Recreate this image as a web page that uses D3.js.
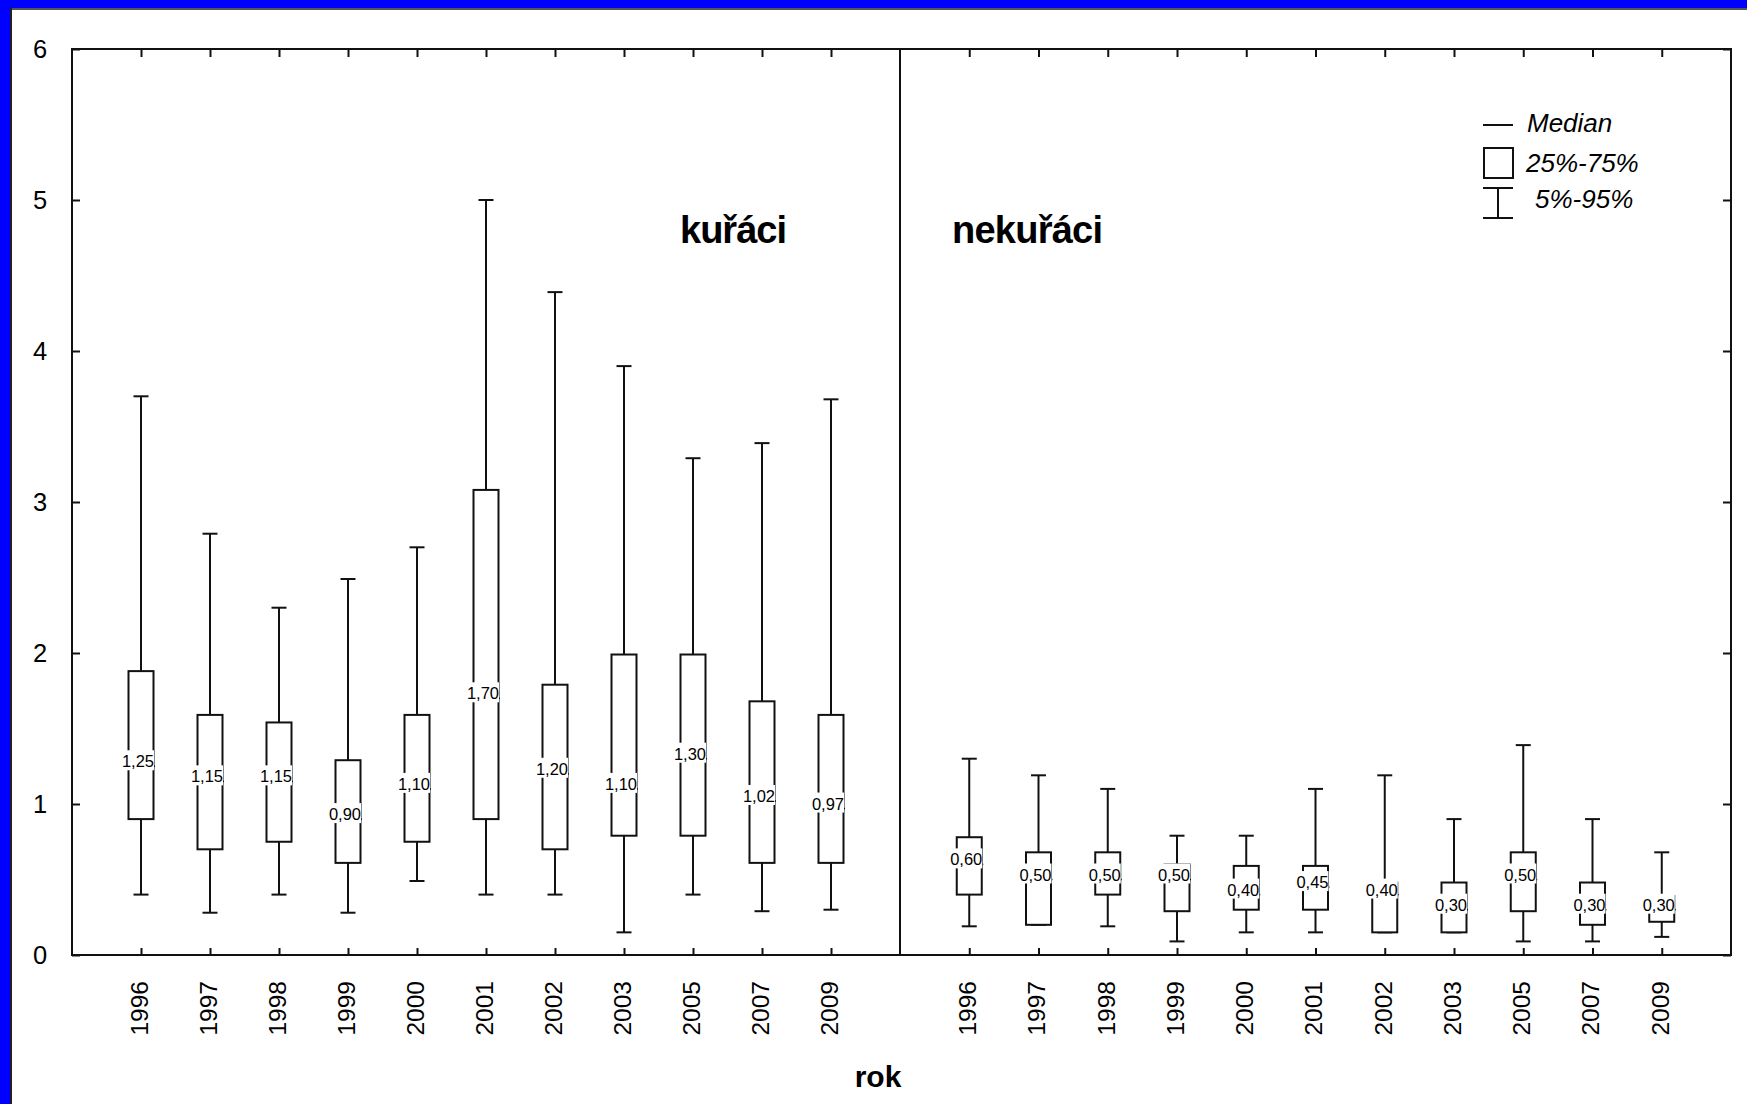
<!DOCTYPE html>
<html>
<head>
<meta charset="utf-8">
<script src="https://cdn.jsdelivr.net/npm/d3@7"></script>
<style>
  body { margin: 0; background: #ffffff; }
  svg { display: block; }
  text { font-family: "Liberation Sans", Arial, sans-serif; fill: #000; }
</style>
</head>
<body>
<script>
// box plot kuraci / nekuraci per rok

var years = ["1996", "1997", "1998", "1999", "2000", "2001", "2002", "2003", "2005", "2007", "2009"];
var yTicks = [0, 1, 2, 3, 4, 5, 6];

// kuraci
var smokP5  = [0.40, 0.28, 0.40, 0.28, 0.49, 0.40, 0.40, 0.15, 0.40, 0.29, 0.30];
var smokQ1  = [0.90, 0.70, 0.75, 0.61, 0.75, 0.90, 0.70, 0.79, 0.79, 0.61, 0.61];
var smokMed = [1.25, 1.15, 1.15, 0.90, 1.10, 1.70, 1.20, 1.10, 1.30, 1.02, 0.97];
var smokQ3  = [1.88, 1.59, 1.54, 1.29, 1.59, 3.08, 1.79, 1.99, 1.99, 1.68, 1.59];
var smokP95 = [3.70, 2.79, 2.30, 2.49, 2.70, 5.00, 4.39, 3.90, 3.29, 3.39, 3.68];

// nekuraci
var nonP5  = [0.19, 0.20, 0.19, 0.09, 0.15, 0.15, 0.15, 0.15, 0.09, 0.09, 0.12];
var nonQ1  = [0.40, 0.20, 0.40, 0.29, 0.30, 0.30, 0.15, 0.15, 0.29, 0.20, 0.22];
var nonMed = [0.60, 0.50, 0.50, 0.50, 0.40, 0.45, 0.40, 0.30, 0.50, 0.30, 0.30];
var nonQ3  = [0.78, 0.68, 0.68, 0.60, 0.59, 0.59, 0.48, 0.48, 0.68, 0.48, 0.39];
var nonP95 = [1.30, 1.19, 1.10, 0.79, 0.79, 1.10, 1.19, 0.90, 1.39, 0.90, 0.68];

var W = 1747, H = 1104;
// plot area (note: "top" is taken by window.top, so use other names)
var pLeft = 72, pRight = 1731, pTop = 49, pBottom = 955, pMid = 900;
var ink = "#111";

var svg = d3.select("body").append("svg")
    .attr("width", W)
    .attr("height", H);

// blue frame (only top and left)
svg.append("rect").attr("x", 0).attr("y", 0).attr("width", W).attr("height", 8).attr("fill", "#0000ff");
svg.append("rect").attr("x", 0).attr("y", 0).attr("width", 10).attr("height", H).attr("fill", "#0000ff");
svg.append("rect").attr("x", 10).attr("y", 8).attr("width", W - 10).attr("height", 2).attr("fill", "#555");
svg.append("rect").attr("x", 10).attr("y", 8).attr("width", 2).attr("height", H - 8).attr("fill", "#222");

var y = d3.scaleLinear().domain([0, 6]).range([pBottom, pTop]);

// one point scale per panel
var xSmok = d3.scalePoint().domain(years).range([pLeft, pMid]).padding(1);
var xNon = d3.scalePoint().domain(years).range([pMid, pRight]).padding(1);

// frame of plot
svg.append("rect")
    .attr("x", pLeft).attr("y", pTop)
    .attr("width", pRight - pLeft).attr("height", pBottom - pTop)
    .attr("fill", "none").attr("stroke", ink).attr("stroke-width", 2);
svg.append("line")
    .attr("x1", pMid).attr("x2", pMid).attr("y1", pTop).attr("y2", pBottom)
    .attr("stroke", ink).attr("stroke-width", 2);

// axes, ticks pointing inwards
svg.append("g")
    .attr("transform", "translate(" + pLeft + ",0)")
    .call(d3.axisRight(y).tickValues(yTicks).tickSize(8).tickFormat(""));
svg.append("g")
    .attr("transform", "translate(" + pRight + ",0)")
    .call(d3.axisLeft(y).tickValues(yTicks).tickSize(8).tickFormat(""));

[xSmok, xNon].forEach(function(sc) {
  svg.append("g")
      .attr("transform", "translate(0," + pBottom + ")")
      .call(d3.axisTop(sc).tickSize(7).tickFormat(""));
  svg.append("g")
      .attr("transform", "translate(0," + pTop + ")")
      .call(d3.axisBottom(sc).tickSize(8).tickFormat(""));
});

svg.selectAll(".domain").remove();
svg.selectAll(".tick line").attr("stroke", ink).attr("stroke-width", 2);

// y tick labels
svg.selectAll(".ylab")
    .data(yTicks)
  .enter()
    .append("text")
    .attr("class", "ylab")
    .attr("x", 40)
    .attr("y", function(d) { return y(d); })
    .attr("dy", "0.36em")
    .attr("text-anchor", "middle")
    .style("font-size", "25.5px")
    .text(function(d) { return d; });

// year labels rotated
[xSmok, xNon].forEach(function(sc) {
  svg.selectAll(null)
      .data(years)
    .enter()
      .append("text")
      .attr("transform", function(d) { return "translate(" + (sc(d) - 2) + ",981)rotate(-90)"; })
      .attr("dy", "0.36em")
      .attr("text-anchor", "end")
      .style("font-size", "24.5px")
      .text(function(d) { return d; });
});

// draw boxes for one group
function drawBoxes(sc, p5, q1, med, q3, p95) {
  var data = years.map(function(yr, i) {
    return {year: yr, p5: p5[i], q1: q1[i], med: med[i], q3: q3[i], p95: p95[i]};
  });
  var bw = 12.5, cw = 7.5;

  var g = svg.append("g")
      .attr("stroke", ink)
      .attr("stroke-width", 2)
      .attr("fill", "none");

  // whisker
  g.selectAll(null).data(data).enter().append("line")
      .attr("x1", function(d) { return sc(d.year); })
      .attr("x2", function(d) { return sc(d.year); })
      .attr("y1", function(d) { return y(d.p5); })
      .attr("y2", function(d) { return y(d.p95); });
  // caps
  g.selectAll(null).data(data).enter().append("line")
      .attr("x1", function(d) { return sc(d.year) - cw; })
      .attr("x2", function(d) { return sc(d.year) + cw; })
      .attr("y1", function(d) { return y(d.p5); })
      .attr("y2", function(d) { return y(d.p5); });
  g.selectAll(null).data(data).enter().append("line")
      .attr("x1", function(d) { return sc(d.year) - cw; })
      .attr("x2", function(d) { return sc(d.year) + cw; })
      .attr("y1", function(d) { return y(d.p95); })
      .attr("y2", function(d) { return y(d.p95); });
  // box
  g.selectAll(null).data(data).enter().append("rect")
      .attr("x", function(d) { return sc(d.year) - bw; })
      .attr("y", function(d) { return y(d.q3); })
      .attr("width", bw * 2)
      .attr("height", function(d) { return y(d.q1) - y(d.q3); })
      .attr("fill", "#fff");
  // median line
  g.selectAll(null).data(data).enter().append("line")
      .attr("stroke-width", 1.5)
      .attr("x1", function(d) { return sc(d.year) - bw; })
      .attr("x2", function(d) { return sc(d.year) + bw + 1.5; })
      .attr("y1", function(d) { return y(d.med); })
      .attr("y2", function(d) { return y(d.med); });

  // median label with white background
  var lab = svg.selectAll(null).data(data).enter().append("g");
  lab.append("rect").attr("fill", "#fff");
  var txt = lab.append("text")
      .attr("x", function(d) { return sc(d.year) - 3; })
      .attr("y", function(d) { return y(d.med) + 1; })
      .attr("text-anchor", "middle")
      .style("font-size", "16.5px")
      .text(function(d) { return d3.format(".2f")(d.med).replace(".", ","); });
  txt.each(function(d) {
    var b = this.getBBox();
    d3.select(this.parentNode).select("rect")
        .attr("x", b.x - 1)
        .attr("y", y(d.med) - 16)
        .attr("width", Math.min(b.width + 2, sc(d.year) + bw + 0.5 - (b.x - 1)))
        .attr("height", 20);
  });
}

drawBoxes(xSmok, smokP5, smokQ1, smokMed, smokQ3, smokP95);
drawBoxes(xNon, nonP5, nonQ1, nonMed, nonQ3, nonP95);

// panel titles
svg.append("text")
    .attr("x", 680).attr("y", 243)
    .attr("textLength", 107)
    .style("font-size", "38px").style("font-weight", "bold")
    .text("kuřáci");
svg.append("text")
    .attr("x", 952).attr("y", 243)
    .attr("textLength", 151)
    .style("font-size", "38px").style("font-weight", "bold")
    .text("nekuřáci");

// x axis title
svg.append("text")
    .attr("x", 878).attr("y", 1087)
    .attr("text-anchor", "middle")
    .style("font-size", "30px").style("font-weight", "bold")
    .text("rok");

// legend
var lg = svg.append("g").attr("stroke", ink).attr("stroke-width", 2).attr("fill", "none");
lg.append("line").attr("x1", 1483).attr("x2", 1513).attr("y1", 125).attr("y2", 125);
lg.append("rect").attr("x", 1484).attr("y", 148).attr("width", 29).attr("height", 30);
lg.append("line").attr("x1", 1483).attr("x2", 1513).attr("y1", 188).attr("y2", 188);
lg.append("line").attr("x1", 1483).attr("x2", 1513).attr("y1", 218).attr("y2", 218);
lg.append("line").attr("x1", 1498).attr("x2", 1498).attr("y1", 188).attr("y2", 218);

var legendText = [["Median", 1527, 132], ["25%-75%", 1526, 172], ["5%-95%", 1535, 208]];
svg.selectAll(".lgt")
    .data(legendText)
  .enter()
    .append("text")
    .attr("class", "lgt")
    .attr("x", function(d) { return d[1]; })
    .attr("y", function(d) { return d[2]; })
    .style("font-size", "26px")
    .style("font-style", "italic")
    .text(function(d) { return d[0]; });
</script>
</body>
</html>
